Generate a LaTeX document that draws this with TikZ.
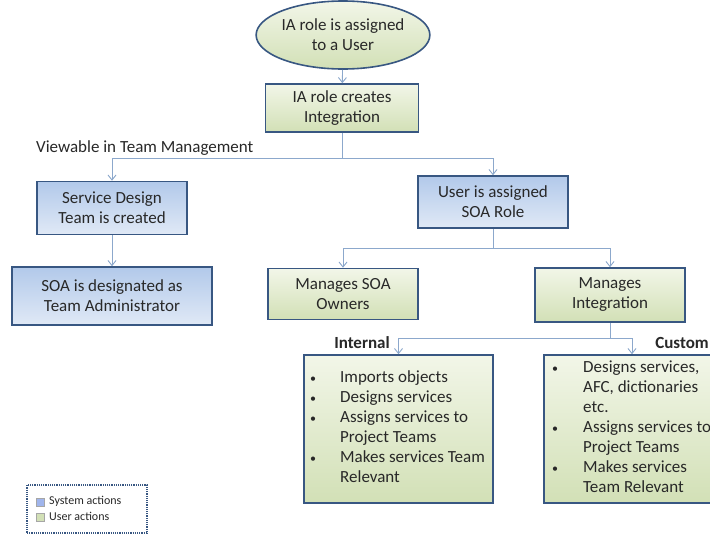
\documentclass[tikz,border=0pt]{standalone}
\usepackage{fontspec}
\setmainfont{Carlito}
\usetikzlibrary{arrows.meta,shapes.geometric}
\definecolor{bordc}{RGB}{56,87,130}
\definecolor{connc}{RGB}{140,168,204}
\definecolor{bluetop}{RGB}{178,201,234}
\definecolor{bluebot}{RGB}{224,233,246}
\definecolor{greentop}{RGB}{242,246,232}
\definecolor{greenbot}{RGB}{210,224,182}
\definecolor{txtc}{RGB}{40,40,40}
\newcommand{\smbul}{{\fontsize{12}{12}\selectfont\textbullet}}
\begin{document}
\begin{tikzpicture}[x=1pt,y=-1pt,
  box/.style={draw=bordc, line width=1.6pt, rectangle, align=center,
    font=\fontsize{17}{20}\selectfont, text=txtc, inner sep=2pt},
  sysbox/.style={box, top color=bluetop, bottom color=bluebot},
  usrbox/.style={box, top color=greentop, bottom color=greenbot},
  conn/.style={draw=connc, line width=0.9pt, -{Straight Barb[length=5pt,width=8pt]}},
  plainconn/.style={draw=connc, line width=0.9pt},
  lbl/.style={font=\fontsize{17}{20}\selectfont, text=txtc, inner sep=0pt},
  blist/.style={font=\fontsize{17}{20}\selectfont, text=txtc, inner sep=0pt, anchor=north west, align=left},
  legtxt/.style={font=\fontsize{12}{14}\selectfont, text=txtc, inner sep=0pt, anchor=west}]
\useasboundingbox (0,0) rectangle (710,536);
\fill[white] (0,0) rectangle (710,536);

% nodes
\node[usrbox, ellipse, minimum width=160pt, minimum height=68pt, inner sep=0pt] (ell) at (343,35) {IA role is assigned\\to a User};
\node[usrbox, minimum width=153pt, minimum height=48pt] (b1) at (342,108) {IA role creates\\Integration};
\node[sysbox, minimum width=150pt, minimum height=53pt] (sdt) at (112,208) {Service Design\\Team is created};
\node[sysbox, minimum width=200pt, minimum height=58pt] (soa) at (112,296) {SOA is designated as\\Team Administrator};
\node[sysbox, minimum width=150pt, minimum height=52pt] (usr) at (493,202) {User is assigned\\SOA Role};
\node[usrbox, minimum width=150pt, minimum height=51pt] (mso) at (343,294) {Manages SOA\\Owners};
\node[usrbox, minimum width=150pt, minimum height=54pt] (mi) at (610,295) {Manages\\Integration};
\node[usrbox, minimum width=189pt, minimum height=148pt] (int) at (398.5,429) {};
\node[usrbox, minimum width=176pt, minimum height=148pt] (cus) at (632,429) {};

% labels
\node[lbl, anchor=west] (view) at (36,148) {Viewable in Team Management};
\node[lbl, font=\fontsize{17}{20}\selectfont\bfseries] (intl) at (362,343) {Internal};
\node[lbl, font=\fontsize{17}{20}\selectfont\bfseries] (cusl) at (682,343) {Custom};

% bullet lists
\node[blist] (intlist) at (310,368) {%
\begin{tabular}{@{}p{30pt}@{}l@{}}
\smbul & Imports objects\\
\smbul & Designs services\\
\smbul & Assigns services to\\
 & Project Teams\\
\smbul & Makes services Team\\
 & Relevant
\end{tabular}};
\node[blist] (cuslist) at (552,358) {%
\begin{tabular}{@{}p{31pt}@{}l@{}}
\smbul & Designs services,\\
 & AFC, dictionaries\\
 & etc.\\
\smbul & Assigns services to\\
 & Project Teams\\
\smbul & Makes services\\
 & Team Relevant
\end{tabular}};

% connectors
\draw[conn] (ell) -- (b1);
\draw[plainconn] (b1.south) -- ++(0,26) coordinate (j1);
\draw[conn] (j1) -| (sdt.north);
\draw[conn] (j1) -| (usr.north);
\draw[conn] (sdt) -- (soa);
\draw[plainconn] (usr.south) -- ++(0,20) coordinate (j2);
\draw[conn] (j2) -| (mso.north);
\draw[conn] (j2) -| (mi.north);
\draw[plainconn] (mi.south) -- ++(0,16) coordinate (j3);
\draw[conn] (j3) -| (int.north);
\draw[conn] (j3) -| (cus.north);

% legend
\node[draw=bordc, densely dotted, line width=1.2pt, minimum width=120pt, minimum height=48pt, inner sep=0pt] (leg) at (87,509) {};
\node[draw=gray!70, fill=bluetop!90!blue, minimum size=8pt, inner sep=0pt] (lsq1) at (40,502) {};
\node[draw=gray!70, fill=greenbot, minimum size=8pt, inner sep=0pt] (lsq2) at (40,517) {};
\node[legtxt] (lt1) at (49,501) {System actions};
\node[legtxt] (lt2) at (49,516) {User actions};
\end{tikzpicture}
\end{document}
